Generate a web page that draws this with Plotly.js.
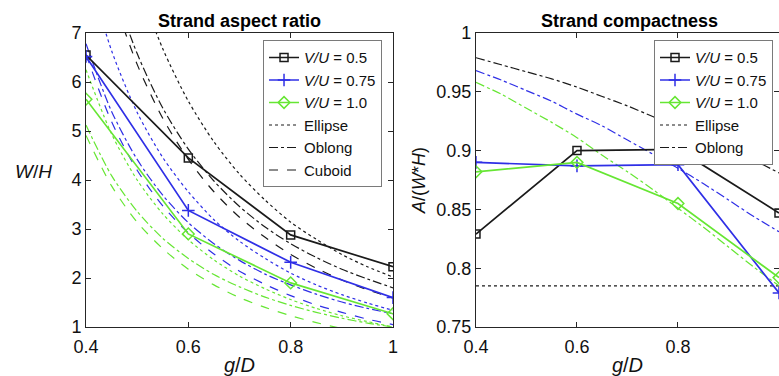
<!DOCTYPE html>
<html>
<head>
<meta charset="utf-8">
<script src="https://cdn.plot.ly/plotly-3.0.1.min.js"></script>
<style>html,body{margin:0;padding:0;background:#fff;}#chart{width:779px;height:376px;}</style>
</head>
<body>
<div id="chart"></div>
<script>
// ---------- data ----------
const gD = [0.4, 0.6, 0.8, 1.0];
const seriesNames = ['<i>V/U</i> = 0.5', '<i>V/U</i> = 0.75', '<i>V/U</i> = 1.0'];

// Measured aspect ratio W/H
const whV05  = [6.55, 4.45, 2.88, 2.23];
const whV075 = [6.52, 3.38, 2.32, 1.60];
const whV10  = [5.65, 2.90, 1.90, 1.27];

// Measured compactness A/(W*H)
const cmpV05  = [0.829, 0.900, 0.901, 0.847];
const cmpV075 = [0.890, 0.887, 0.888, 0.779];
const cmpV10  = [0.882, 0.890, 0.855, 0.792];

// Model curves
const gDfine = [0.4, 0.45, 0.5, 0.55, 0.6, 0.65, 0.7, 0.75, 0.8, 0.85, 0.9, 0.95, 1.0];

const ellipseV05  = [12.6, 9.98, 8.08, 6.68, 5.61, 4.78, 4.12, 3.59, 3.14, 2.79, 2.48, 2.23, 2.02];
const oblongV05   = [10.15, 8.07, 6.58, 5.47, 4.63, 3.98, 3.46, 3.04, 2.70, 2.42, 2.18, 1.98, 1.80];
const cuboidV05   = [9.94, 7.85, 6.36, 5.26, 4.42, 3.76, 3.24, 2.83, 2.48, 2.20, 1.96, 1.76, 1.59];

const ellipseV075 = [8.40, 6.64, 5.38, 4.46, 3.76, 3.19, 2.75, 2.40, 2.10, 1.86, 1.66, 1.49, 1.34];
const oblongV075  = [6.78, 5.40, 4.42, 3.69, 3.13, 2.70, 2.36, 2.08, 1.86, 1.67, 1.51, 1.38, 1.27];
const cuboidV075  = [6.56, 5.19, 4.20, 3.47, 2.92, 2.49, 2.14, 1.87, 1.64, 1.45, 1.30, 1.16, 1.05];

const ellipseV10  = [6.25, 4.94, 4.00, 3.31, 2.78, 2.37, 2.04, 1.78, 1.56, 1.38, 1.23, 1.11, 1.00];
const oblongV10   = [5.12, 4.09, 3.36, 2.81, 2.40, 2.07, 1.82, 1.61, 1.44, 1.30, 1.18, 1.08, 1.00];
const cuboidV10   = [4.91, 3.88, 3.14, 2.60, 2.18, 1.86, 1.60, 1.40, 1.23, 1.09, 0.97, 0.87, 0.785];

const cmpEllipse   = [0.785, 0.785];
const cmpEllipseX  = [0.4, 1.0];
const cmpOblongV05  = [0.979, 0.973, 0.967, 0.961, 0.954, 0.946, 0.938, 0.929, 0.920, 0.911, 0.902, 0.892, 0.881];
const cmpOblongV075 = [0.968, 0.960, 0.951, 0.942, 0.931, 0.921, 0.909, 0.897, 0.885, 0.872, 0.858, 0.844, 0.831];
const cmpOblongV10  = [0.958, 0.948, 0.936, 0.924, 0.911, 0.896, 0.882, 0.867, 0.851, 0.835, 0.818, 0.801, 0.785];

// ---------- styles ----------
const cBlack = '#1a1a1a', cBlue = '#2f2fe6', cGreen = '#66e633';
const FONT = 'Liberation Sans, Arial, Helvetica, sans-serif';
const TXT = '#111111';

function model(x, y, color, dash, xa, ya, name, legend, rank) {
  return {
    x: x, y: y, type: 'scatter', mode: 'lines',
    line: {color: color, width: 1.2, dash: dash, shape: 'spline', smoothing: 0.8},
    xaxis: xa, yaxis: ya, name: name || '', showlegend: !!name,
    legend: legend, legendrank: rank || 1000, hoverinfo: 'skip'
  };
}
function meas(y, color, symbol, xa, ya, name, legend, rank, msize) {
  return {
    x: gD, y: y, type: 'scatter', mode: 'lines+markers',
    line: {color: color, width: 1.7},
    marker: {symbol: symbol, size: msize, color: color, line: {color: color, width: 1.5}},
    xaxis: xa, yaxis: ya, name: name, legend: legend, legendrank: rank
  };
}

const traces = [
  // left: model curves
  model(gDfine, ellipseV05, cBlack, 'dot', 'x', 'y', 'Ellipse', 'legend', 4),
  model(gDfine, oblongV05, cBlack, 'dashdot', 'x', 'y', 'Oblong', 'legend', 5),
  model(gDfine, cuboidV05, cBlack, 'dash', 'x', 'y', 'Cuboid', 'legend', 6),
  model(gDfine, ellipseV075, cBlue, 'dot', 'x', 'y'),
  model(gDfine, oblongV075, cBlue, 'dashdot', 'x', 'y'),
  model(gDfine, cuboidV075, cBlue, 'dash', 'x', 'y'),
  model(gDfine, ellipseV10, cGreen, 'dot', 'x', 'y'),
  model(gDfine, oblongV10, cGreen, 'dashdot', 'x', 'y'),
  model(gDfine, cuboidV10, cGreen, 'dash', 'x', 'y'),
  // left: measurements
  meas(whV05, cBlack, 'square-open', 'x', 'y', seriesNames[0], 'legend', 1, 8),
  meas(whV075, cBlue, 'cross-thin-open', 'x', 'y', seriesNames[1], 'legend', 2, 9),
  meas(whV10, cGreen, 'diamond-open', 'x', 'y', seriesNames[2], 'legend', 3, 9),
  // right: model curves
  model(cmpEllipseX, cmpEllipse, cBlack, 'dot', 'x2', 'y2', 'Ellipse', 'legend2', 4),
  model(gDfine, cmpOblongV05, cBlack, 'dashdot', 'x2', 'y2', 'Oblong', 'legend2', 5),
  model(gDfine, cmpOblongV075, cBlue, 'dashdot', 'x2', 'y2'),
  model(gDfine, cmpOblongV10, cGreen, 'dashdot', 'x2', 'y2'),
  // right: measurements
  meas(cmpV05, cBlack, 'square-open', 'x2', 'y2', seriesNames[0], 'legend2', 1, 8),
  meas(cmpV075, cBlue, 'cross-thin-open', 'x2', 'y2', seriesNames[1], 'legend2', 2, 9),
  meas(cmpV10, cGreen, 'diamond-open', 'x2', 'y2', seriesNames[2], 'legend2', 3, 9)
];

const axCommon = {
  showgrid: false, zeroline: false, showline: true, linecolor: '#262626', linewidth: 1,
  mirror: 'ticks', ticks: 'inside', ticklen: 5, tickcolor: '#262626',
  tickfont: {family: FONT, size: 18, color: TXT}
};
const legCommon = {
  bgcolor: '#ffffff', bordercolor: '#7a7a7a', borderwidth: 1,
  font: {family: FONT, size: 15, color: TXT},
  xanchor: 'right', yanchor: 'top', itemwidth: 30, traceorder: 'normal', tracegroupgap: 0
};

const layout = {
  width: 779, height: 376,
  margin: {l: 0, r: 0, t: 0, b: 0},
  paper_bgcolor: '#ffffff', plot_bgcolor: '#ffffff',
  font: {family: FONT, color: TXT},
  xaxis: Object.assign({}, axCommon, {
    domain: [0.1104, 0.5045], range: [0.4, 1.0], tick0: 0.4, dtick: 0.2, anchor: 'y',
    ticklabelstandoff: 3,
    title: {text: '<i>g</i>/<i>D</i>', font: {family: FONT, size: 20, color: TXT}, standoff: 2}
  }),
  yaxis: Object.assign({}, axCommon, {
    domain: [0.1303, 0.9122], range: [1, 7], dtick: 1, anchor: 'x'
  }),
  xaxis2: Object.assign({}, axCommon, {
    domain: [0.6110, 1.0], range: [0.4, 1.0], tick0: 0.4, dtick: 0.2, anchor: 'y2',
    ticklabelstandoff: 3,
    title: {text: '<i>g</i>/<i>D</i>', font: {family: FONT, size: 20, color: TXT}, standoff: 2}
  }),
  yaxis2: Object.assign({}, axCommon, {
    domain: [0.1303, 0.9122], range: [0.75, 1.0], dtick: 0.05, anchor: 'x2',
    title: {text: '<i>A</i>/(<i>W</i>*<i>H</i>)', font: {family: FONT, size: 18, color: TXT}, standoff: 6}
  }),
  legend: Object.assign({}, legCommon, {x: 0.4904, y: 0.893}),
  legend2: Object.assign({}, legCommon, {x: 0.9923, y: 0.893}),
  annotations: [
    {text: '<b>Strand aspect ratio</b>', x: 239.5/779, y: 1 - 21/376, xref: 'paper', yref: 'paper',
     xanchor: 'center', yanchor: 'middle', showarrow: false, font: {family: FONT, size: 18, color: '#000'}},
    {text: '<b>Strand compactness</b>', x: 629/779, y: 1 - 21/376, xref: 'paper', yref: 'paper',
     xanchor: 'center', yanchor: 'middle', showarrow: false, font: {family: FONT, size: 18, color: '#000'}},
    {text: '<i>W</i>/<i>H</i>', x: 33/779, y: 1 - 172/376, xref: 'paper', yref: 'paper',
     xanchor: 'center', yanchor: 'middle', showarrow: false, font: {family: FONT, size: 19, color: TXT}}
  ]
};

Plotly.newPlot('chart', traces, layout, {staticPlot: true, displayModeBar: false});
</script>
</body>
</html>
